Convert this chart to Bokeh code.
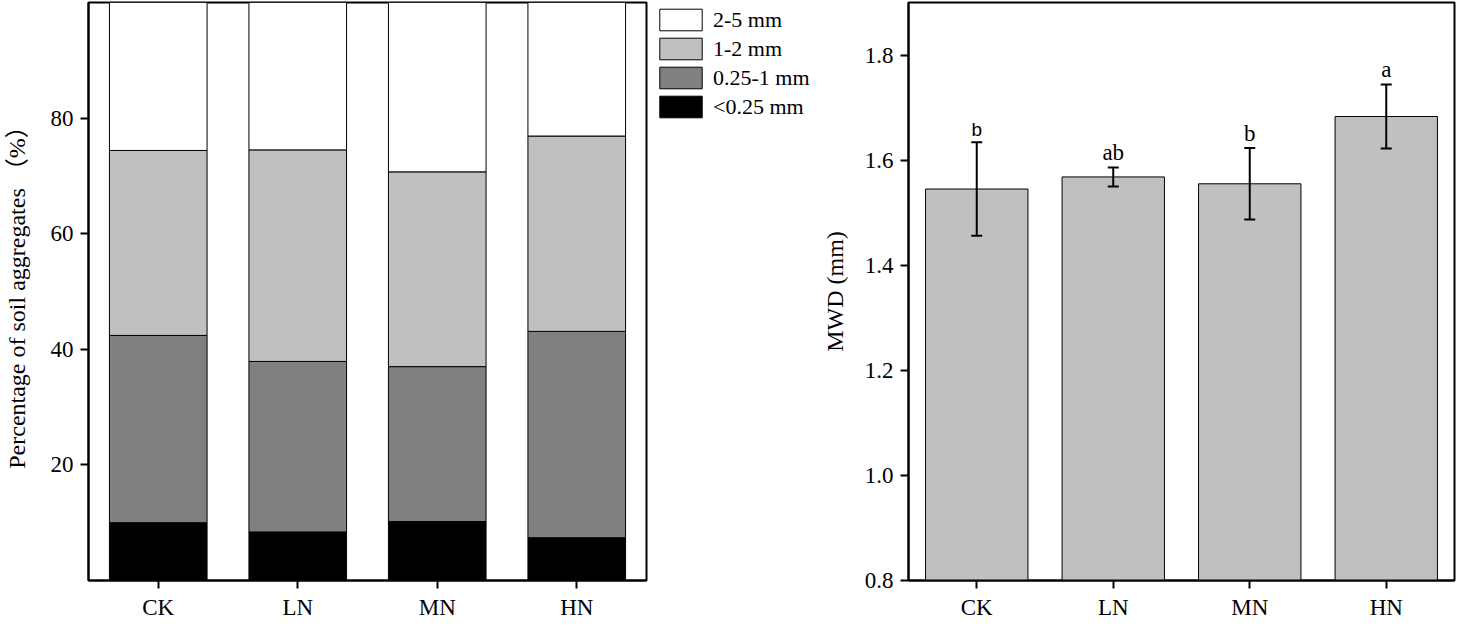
from bokeh.plotting import figure
from bokeh.layouts import row
from bokeh.models import (ColumnDataSource, FactorRange, Range1d, FixedTicker, Legend,
                          LegendItem, Whisker, TeeHead, PrintfTickFormatter)
from bokeh.embed import file_html
from bokeh.resources import INLINE

# ---------------- data ----------------
categories = ["CK", "LN", "MN", "HN"]
size_classes = ["<0.25 mm", "0.25-1 mm", "1-2 mm", "2-5 mm"]
pct_lt025 = [10.0, 8.4, 10.2, 7.4]
pct_025_1 = [32.4, 29.5, 26.8, 35.7]
pct_1_2 = [32.0, 36.6, 33.7, 33.8]
pct_2_5 = [25.6, 25.5, 29.3, 23.1]
left_ticks = [20, 40, 60, 80]

mwd = [1.545, 1.568, 1.555, 1.683]
mwd_err = [0.089, 0.018, 0.068, 0.061]
letters = ["b", "ab", "b", "a"]
right_ticks = [0.8, 1.0, 1.2, 1.4, 1.6, 1.8]

SERIF = "Liberation Serif"
SERIF_CJK = "'Liberation Serif', 'Noto Sans CJK SC', serif"
fills = ["#000000", "#808080", "#c0c0c0", "#ffffff"]

FW1, FW2, FH = 558, 546, 578


def style_axes(p):
    for ax in (p.xaxis[0], p.yaxis[0]):
        ax.axis_line_width = 2
        ax.axis_line_color = "black"
        ax.major_tick_line_width = 2
        ax.major_tick_line_color = "black"
        ax.major_tick_out = 8
        ax.major_tick_in = 0
        ax.minor_tick_line_color = None
        ax.major_label_text_font = SERIF
        ax.major_label_text_font_size = "23px"
        ax.major_label_text_color = "black"
        ax.axis_label_text_font = SERIF_CJK
        ax.axis_label_text_font_size = "24px"
        ax.axis_label_text_font_style = "normal"
        ax.axis_label_text_color = "black"
    p.xaxis.major_label_standoff = 6
    p.yaxis.major_label_standoff = 7
    p.xgrid.grid_line_color = None
    p.ygrid.grid_line_color = None
    p.outline_line_color = "black"
    p.outline_line_width = 2
    p.outline_line_alpha = 1.0
    p.x_range.range_padding = 0
    p.x_range.factor_padding = 0


# ---------------- left: stacked bars ----------------
src1 = ColumnDataSource(dict(cat=categories, a=pct_lt025, b=pct_025_1, c=pct_1_2, d=pct_2_5))

p1 = figure(frame_width=FW1, frame_height=FH, x_range=FactorRange(*categories),
            y_range=Range1d(0, 100), output_backend="svg", toolbar_location=None,
            min_border_left=86, min_border_right=4, min_border_top=2, min_border_bottom=36,
            background_fill_color="white", border_fill_color="white")
rs = p1.vbar_stack(["a", "b", "c", "d"], x="cat", width=0.7, source=src1,
                   fill_color=fills, line_color="black", line_width=1)
p1.yaxis.ticker = FixedTicker(ticks=left_ticks)
p1.yaxis.axis_label = "Percentage of soil aggregates （%）"
p1.yaxis.axis_label_standoff = 18
style_axes(p1)

# ---------------- legend host (between the two panels) ----------------
p3 = figure(width=168, height=FH + 38, x_range=Range1d(0, 1), y_range=Range1d(0, 1),
            x_axis_type=None, y_axis_type=None, output_backend="svg", toolbar_location=None,
            min_border=0, outline_line_color=None,
            background_fill_color="white", border_fill_color="white")
p3.xgrid.grid_line_color = None
p3.ygrid.grid_line_color = None
nan = float("nan")
proxy = {}
for i, name in enumerate(size_classes):
    proxy[name] = p3.vbar(x=[nan], top=[nan], width=0.5, fill_color=fills[i],
                          line_color="black", line_width=1)
items = [LegendItem(label=n, renderers=[proxy[n]]) for n in reversed(size_classes)]
legend = Legend(items=items, location="top_left", glyph_width=53, glyph_height=27,
                label_height=27, label_text_font=SERIF, label_text_font_size="22px",
                label_text_color="black",
                label_standoff=6, spacing=2, padding=0,
                border_line_color=None, background_fill_alpha=0)
legend.margin = 4
p3.add_layout(legend, "center")

# ---------------- right: MWD bars ----------------
upper = [m + e for m, e in zip(mwd, mwd_err)]
lower = [m - e for m, e in zip(mwd, mwd_err)]
letter_fonts = ["Liberation Sans", SERIF, SERIF, SERIF]
letter_sizes = ["19px", "23px", "23px", "23px"]
src2 = ColumnDataSource(dict(cat=categories, mwd=mwd, upper=upper, lower=lower,
                             letter=letters, font=letter_fonts, fsize=letter_sizes))

p2 = figure(frame_width=FW2, frame_height=FH, x_range=FactorRange(*categories),
            y_range=Range1d(0.8, 1.9), output_backend="svg", toolbar_location=None,
            min_border_left=88, min_border_right=3, min_border_top=2, min_border_bottom=36,
            background_fill_color="white", border_fill_color="white")
p2.vbar(x="cat", top="mwd", bottom=0.8, width=0.75, source=src2,
        fill_color="#c0c0c0", line_color="black", line_width=1)
wh = Whisker(source=src2, base="cat", upper="upper", lower="lower",
             line_width=2, line_color="black", level="overlay",
             upper_head=TeeHead(size=11, line_width=2, line_color="black"),
             lower_head=TeeHead(size=11, line_width=2, line_color="black"))
p2.add_layout(wh)
p2.text(x="cat", y="upper", text="letter", source=src2, text_align="center",
        text_baseline="bottom", y_offset=-2, text_font="font", text_font_size="fsize",
        text_color="black")
p2.yaxis.ticker = FixedTicker(ticks=right_ticks)
p2.yaxis.formatter = PrintfTickFormatter(format="%.1f")
p2.yaxis.axis_label = "MWD (mm)"
p2.yaxis.axis_label_standoff = 14
style_axes(p2)

layout = row(p1, p3, p2)
open("out.html", "w").write(file_html(layout, INLINE))
